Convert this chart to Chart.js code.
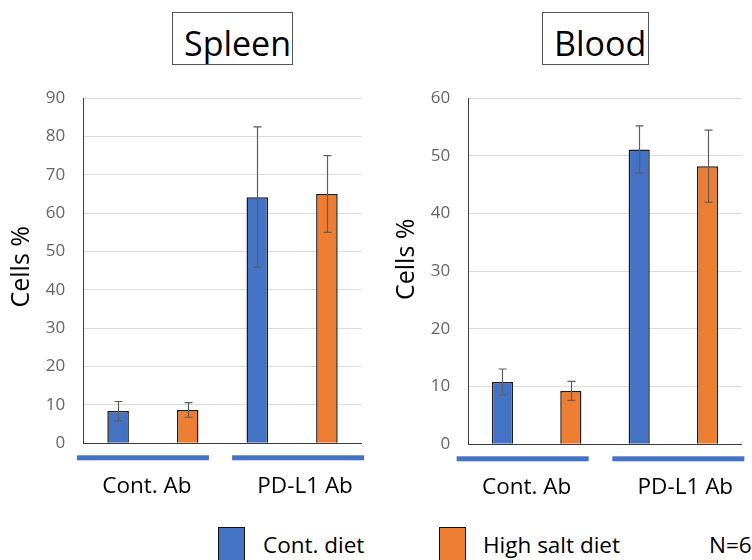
<!DOCTYPE html>
<html>
<head>
<meta charset="utf-8">
<script src="https://cdn.jsdelivr.net/npm/chart.js@4/dist/chart.umd.min.js"></script>
<style>
  html, body { margin: 0; padding: 0; background: #fff; }
  body { width: 752px; height: 560px; position: relative; overflow: hidden; font-family: "Open Sans", "Noto Sans", sans-serif; }
  canvas { position: absolute; top: 70px; }
  .titlebox { position: absolute; top: 12px; height: 53px; border: 1px solid #555; box-sizing: border-box; }
  .titletext { position: absolute; font-size: 34px; line-height: 34px; color: #000; white-space: nowrap; }
  .swatch { position: absolute; top: 527px; width: 27px; height: 40px; box-sizing: border-box; border: 1.5px solid #111; }
  .legtext { position: absolute; top: 534px; font-size: 22.5px; line-height: 22px; color: #000; white-space: nowrap; }
</style>
</head>
<body>
<div class="titlebox" style="left:172px; width:121px;"></div>
<div class="titletext" style="left:184px; top:26px;">Spleen</div>
<div class="titlebox" style="left:542px; width:107px;"></div>
<div class="titletext" style="left:554px; top:26px;">Blood</div>

<canvas id="spleen" width="376" height="440" style="left:0;"></canvas>
<canvas id="blood" width="376" height="440" style="left:376px;"></canvas>

<div class="swatch" style="left:218px; background:#4472C4;"></div>
<div class="legtext" style="left:263px;">Cont. diet</div>
<div class="swatch" style="left:439px; background:#ED7D31;"></div>
<div class="legtext" style="left:483px;">High salt diet</div>
<div class="legtext" style="left:709px;">N=6</div>

<script>
// Groups along the x axis
const categories = ['Cont. Ab', 'PD-L1 Ab'];
const seriesNames = ['Cont. diet', 'High salt diet'];
const yAxisTitle = 'Cells %';

// Spleen: mean cell % and error (±)
const spleenContDiet = [8.4, 64.2];
const spleenHighSalt = [8.7, 65.0];
const spleenContDietErr = [2.5, 18.3];
const spleenHighSaltErr = [1.9, 10.0];

// Blood: mean cell % and error (±)
const bloodContDiet = [10.8, 51.1];
const bloodHighSalt = [9.25, 48.2];
const bloodContDietErr = [2.25, 4.1];
const bloodHighSaltErr = [1.65, 6.25];

// Y axis ranges
const spleenYMax = 90;
const bloodYMax = 60;
const yStep = 10;

const BLUE = '#4472C4';
const ORANGE = '#ED7D31';
const FONT = '"Open Sans", "Noto Sans", sans-serif';

// Draws ± error bars from each dataset's errors array
const errorBarPlugin = {
  id: 'errorBars',
  afterDatasetsDraw(chart) {
    const ctx = chart.ctx;
    const y = chart.scales.y;
    ctx.save();
    ctx.strokeStyle = '#5f5f5f';
    ctx.lineWidth = 1.2;
    chart.data.datasets.forEach((ds, di) => {
      const meta = chart.getDatasetMeta(di);
      meta.data.forEach((bar, i) => {
        const v = ds.data[i], e = ds.errors[i];
        const x = Math.round(bar.x) + 0.5;
        const top = y.getPixelForValue(v + e);
        const bot = y.getPixelForValue(v - e);
        ctx.beginPath();
        ctx.moveTo(x, top); ctx.lineTo(x, bot);
        ctx.moveTo(x - 4, top); ctx.lineTo(x + 4, top);
        ctx.moveTo(x - 4, bot); ctx.lineTo(x + 4, bot);
        ctx.stroke();
      });
    });
    ctx.restore();
  }
};

// Blue group underline, group name below the x axis, and the rotated y-axis title
const groupLabelPlugin = {
  id: 'groupLabels',
  afterDraw(chart, args, opts) {
    const ctx = chart.ctx;
    const xs = chart.scales.x;
    const area = chart.chartArea;
    const bottom = area.bottom;
    ctx.save();
    chart.data.labels.forEach((lab, i) => {
      const c = xs.getPixelForValue(i);
      const lc = c + opts.lineShift[i];
      ctx.fillStyle = BLUE;
      ctx.fillRect(lc - 66, bottom + 12, 132, 5);
      ctx.fillStyle = '#000';
      ctx.font = '22.5px ' + FONT;
      ctx.textAlign = 'center';
      ctx.textBaseline = 'alphabetic';
      ctx.fillText(lab, c + opts.labelShift[i], bottom + 50);
    });
    // y-axis title
    ctx.translate(opts.titleX, (area.top + area.bottom) / 2 + opts.titleShift);
    ctx.rotate(-Math.PI / 2);
    ctx.font = '25px ' + FONT;
    ctx.fillStyle = '#000';
    ctx.textAlign = 'center';
    ctx.textBaseline = 'middle';
    ctx.fillText(yAxisTitle, 0, 0);
    ctx.restore();
  }
};

function makeChart(id, contVals, saltVals, contErr, saltErr, yMax, axisWidth, rightPad, topPad, xHeight, shifts) {
  return new Chart(document.getElementById(id), {
    type: 'bar',
    data: {
      labels: categories,
      datasets: [
        { label: seriesNames[0], data: contVals, errors: contErr, backgroundColor: BLUE, borderColor: '#1c1c1c', borderWidth: 1.5 },
        { label: seriesNames[1], data: saltVals, errors: saltErr, backgroundColor: ORANGE, borderColor: '#1c1c1c', borderWidth: 1.5 }
      ]
    },
    options: {
      responsive: false,
      animation: false,
      layout: { padding: { left: 0, right: rightPad, top: topPad, bottom: 0 } },
      datasets: { bar: { categoryPercentage: 1.0, barPercentage: 0.31 } },
      plugins: {
        legend: { display: false },
        tooltip: { enabled: false },
        groupLabels: shifts
      },
      scales: {
        x: {
          grid: { display: false, drawTicks: false },
          border: { display: true, color: '#3a3a3a', width: 1 },
          ticks: { display: false },
          afterFit(scale) { scale.height = xHeight; }
        },
        y: {
          min: 0, max: yMax,
          ticks: { stepSize: yStep, padding: 18, color: '#666', font: { family: FONT, size: 17 } },
          grid: { color: '#dcdcdc', lineWidth: 1, drawTicks: false },
          border: { display: true, color: '#3a3a3a', width: 1 },
          afterFit(scale) { scale.width = axisWidth; }
        }
      }
    },
    plugins: [errorBarPlugin, groupLabelPlugin]
  });
}

makeChart('spleen', spleenContDiet, spleenHighSalt, spleenContDietErr, spleenHighSaltErr,
  spleenYMax, 83.3, 14.3, 28, 66.7,
  { lineShift: [-10, 6], labelShift: [-6, 13], titleX: 22, titleShift: -4 });
makeChart('blood', bloodContDiet, bloodHighSalt, bloodContDietErr, bloodHighSaltErr,
  bloodYMax, 92.3, 10.3, 27, 65.7,
  { lineShift: [-14, 5], labelShift: [-10, 12], titleX: 31, titleShift: -12 });
</script>
</body>
</html>
